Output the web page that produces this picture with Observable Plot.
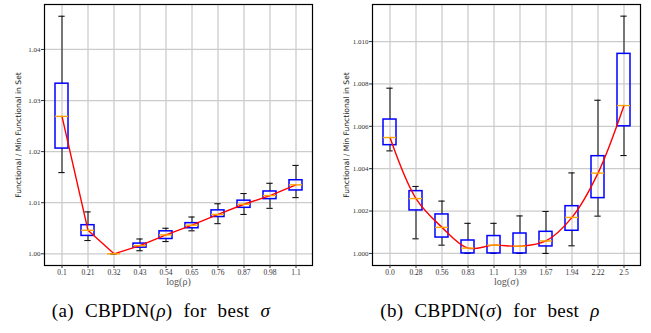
<!DOCTYPE html>
<html><head><meta charset="utf-8">
<script src="https://cdn.jsdelivr.net/npm/d3@7"></script>
<script src="https://cdn.jsdelivr.net/npm/@observablehq/plot@0.6"></script>
<style>
body{margin:0;background:#fff;}
#wrap{position:relative;width:651px;height:333px;overflow:hidden;background:#fff;}
.panel{position:absolute;top:0;}
.cap{position:absolute;top:300px;font-family:"Liberation Serif",serif;font-size:19px;white-space:nowrap;transform:translateX(-50%);word-spacing:6px;letter-spacing:0.3px;color:#000;}
</style></head><body>
<div id="wrap">
<div id="a" class="panel" style="left:0px"></div>
<div id="b" class="panel" style="left:328px"></div>
<div class="cap" style="left:161px">(a) CBPDN(<i>ρ</i>) for best <i>σ</i></div>
<div class="cap" style="left:490px">(b) CBPDN(<i>σ</i>) for best <i>ρ</i></div>
</div>
<script>
// Panel (a): log(rho)
const rhoLabels = ["0.1","0.21","0.32","0.43","0.54","0.65","0.76","0.87","0.98","1.1"];
const rhoLow  = [1.0159,1.0026,1.0000,1.0006,1.0024,1.0045,1.0059,1.0077,1.0089,1.0110];
const rhoQ1   = [1.0206,1.0035,1.0000,1.0012,1.0029,1.0050,1.0072,1.0090,1.0107,1.0124];
const rhoMed  = [1.0269,1.0046,1.0000,1.0016,1.0037,1.0056,1.0077,1.0097,1.0114,1.0135];
const rhoQ3   = [1.0333,1.0056,1.0000,1.0020,1.0044,1.0060,1.0085,1.0104,1.0122,1.0144];
const rhoHigh = [1.0465,1.0082,1.0000,1.0029,1.0050,1.0072,1.0098,1.0118,1.0138,1.0173];
const rhoTicks = [1.00,1.01,1.02,1.03,1.04];

// Panel (b): log(sigma)
const sigLabels = ["0.0","0.28","0.56","0.83","1.1","1.39","1.67","1.94","2.22","2.5"];
const sigLow  = [1.00484,1.00069,1.00039,1.00000,1.00000,1.00000,1.00000,1.00036,1.00176,1.00462];
const sigQ1   = [1.00511,1.00203,1.00075,1.00000,1.00000,1.00000,1.00033,1.00107,1.00261,1.00600];
const sigMed  = [1.00547,1.00259,1.00123,1.00025,1.00039,1.00034,1.00059,1.00170,1.00379,1.00698];
const sigQ3   = [1.00632,1.00294,1.00184,1.00061,1.00082,1.00094,1.00102,1.00223,1.00459,1.00942];
const sigHigh = [1.00780,1.00316,1.00247,1.00142,1.00142,1.00177,1.00198,1.00380,1.00723,1.01120];
const sigTicks = [1.000,1.002,1.004,1.006,1.008,1.010];

const yTitle = "Functional / Min Functional in Set";

function panel(o) {
  const rows = o.labels.map((l, i) => ({l, lo: o.lo[i], q1: o.q1[i], med: o.med[i], q3: o.q3[i], hi: o.hi[i]}));
  const W = o.width, ml = o.marginLeft, mr = o.marginRight;
  const step = (W - ml - mr) / o.labels.length;
  const capInset = step * 0.125;
  return Plot.plot({
    width: W, height: 292,
    marginLeft: ml, marginRight: mr, marginTop: 4, marginBottom: 27,
    style: {fontFamily: "'Liberation Serif', serif", fontSize: "7.5px", color: "#333", background: "white", overflow: "visible"},
    x: {type: "band", domain: o.labels, paddingInner: 0.5, paddingOuter: 0.25, align: 0.5},
    y: {domain: o.domain},
    marks: [
      Plot.ruleX(o.labels, {x: d => d, stroke: "#cccccc", strokeWidth: 1.3}),
      Plot.ruleY(o.ticks, {y: d => d, stroke: "#cccccc", strokeWidth: 1.3}),
      Plot.ruleX(rows, {x: "l", y1: "q3", y2: "hi", stroke: "#222", strokeWidth: 1.1}),
      Plot.ruleX(rows, {x: "l", y1: "lo", y2: "q1", stroke: "#222", strokeWidth: 1.1}),
      Plot.tickY(rows, {x: "l", y: "hi", stroke: "#111", strokeWidth: 1.1, insetLeft: capInset, insetRight: capInset}),
      Plot.tickY(rows, {x: "l", y: "lo", stroke: "#111", strokeWidth: 1.1, insetLeft: capInset, insetRight: capInset}),
      Plot.barY(rows, {x: "l", y1: "q1", y2: "q3", fill: "none", stroke: "#0000ff", strokeWidth: 1.5}),
      Plot.lineY(rows, {x: "l", y: "med", stroke: "#ff0000", strokeWidth: 1.4, curve: o.curve}),
      Plot.tickY(rows, {x: "l", y: "med", stroke: "#ffa500", strokeWidth: 1.4}),
      Plot.frame({stroke: "#000", strokeWidth: 1.2}),
      Plot.axisX({tickSize: 3, tickPadding: 1, fontSize: 7.5, label: null}),
      Plot.axisY({ticks: o.ticks, tickFormat: o.fmt, tickSize: 3, tickPadding: 1, fontSize: 7, label: null}),
      Plot.text([o.xlabel], {frameAnchor: "bottom", dy: 19, fontSize: 10, fill: "#555", fontFamily: "'Liberation Serif', serif"}),
      Plot.text([yTitle], {frameAnchor: "left", rotate: -90, dx: -26, textAnchor: "middle", fontSize: 7.6, fill: "#222", fontFamily: "'DejaVu Sans', sans-serif"})
    ]
  });
}

document.getElementById("a").append(panel({
  labels: rhoLabels, lo: rhoLow, q1: rhoQ1, med: rhoMed, q3: rhoQ3, hi: rhoHigh,
  domain: [0.99771, 1.0488], ticks: rhoTicks, fmt: d3.format(".2f"),
  xlabel: "log(ρ)", width: 325, marginLeft: 44, marginRight: 13, curve: "linear"
}));
document.getElementById("b").append(panel({
  labels: sigLabels, lo: sigLow, q1: sigQ1, med: sigMed, q3: sigQ3, hi: sigHigh,
  domain: [0.99943, 1.01175], ticks: sigTicks, fmt: d3.format(".3f"),
  xlabel: "log(σ)", width: 323, marginLeft: 44, marginRight: 11, curve: "catmull-rom"
}));
</script>
</body></html>
